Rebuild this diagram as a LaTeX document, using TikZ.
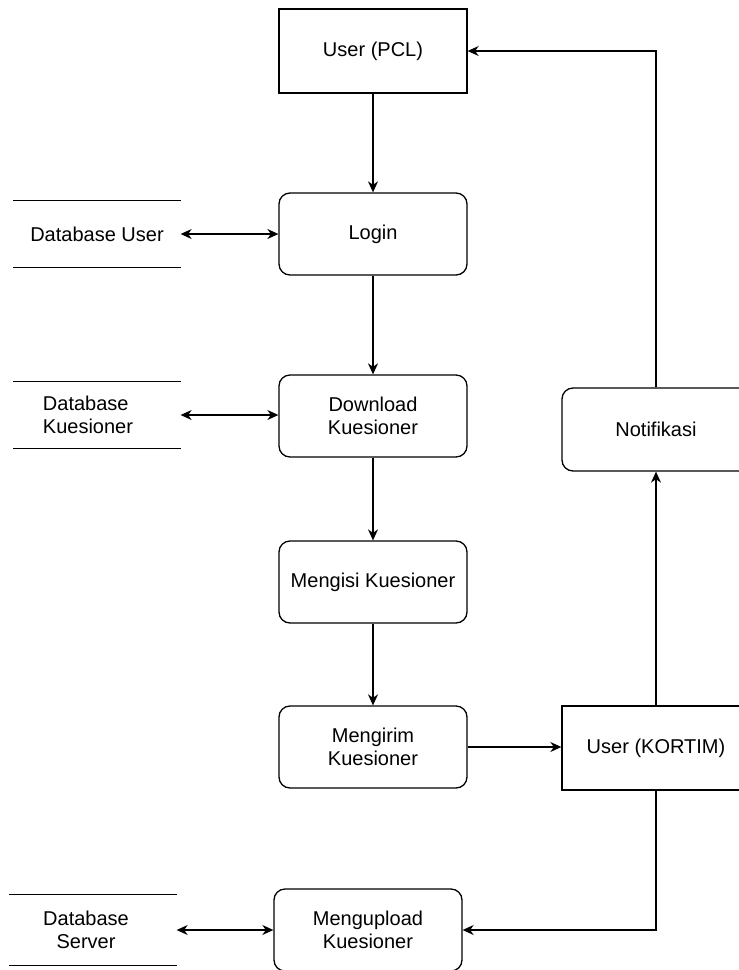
\documentclass[tikz,border=0pt]{standalone}
\usepackage{fontspec}
\setmainfont{Liberation Sans}
\usetikzlibrary{arrows.meta}
\begin{document}
\begin{tikzpicture}[x=1pt,y=-1pt,
  font=\fontsize{20}{23}\selectfont,
  line width=1.3pt,
  every node/.style={align=center, inner sep=0pt},
  proc/.style={draw, rounded corners=11pt, minimum width=188pt, minimum height=82pt},
  ent/.style={draw, minimum width=188pt, minimum height=84pt},
  store/.style={minimum width=166pt, minimum height=66pt},
  tip/.tip={Stealth[length=11pt,width=10pt,inset=3.5pt]},
  flow/.style={-tip},
  both/.style={tip-tip}
]
\useasboundingbox (0,0) rectangle (739,970);

% processes and actors
\node[ent]  (pcl)    at (373,51)    {User (PCL)};
\node[proc] (login)  at (373,234)   {Login};
\node[proc] (down)   at (373,416)   {Download\\Kuesioner};
\node[proc] (isi)    at (373,582)   {Mengisi Kuesioner};
\node[proc] (kirim)  at (373,747)   {Mengirim\\Kuesioner};
\node[ent]  (kortim) at (656,748)   {User (KORTIM)};
\node[proc, minimum height=83pt] (notif) at (656,429.5) {Notifikasi};
\node[proc] (up)     at (368,930)   {Mengupload\\Kuesioner};

% data stores
\node[store] (dbu) at (97,234)  {Database User};
\node[store, align=left] (dbk) at (97,415)  {Database\\Kuesioner\hspace*{18pt}};
\node[store, minimum height=70pt] (dbs) at (93,930) {Database\hspace*{14pt}\\Server\hspace*{14pt}};
\foreach \s in {dbu,dbk,dbs}{
  \draw (\s.north west) -- (\s.north east);
  \draw (\s.south west) -- (\s.south east);
}

% main flow
\draw[flow] (pcl) -- (login);
\draw[flow] (login) -- (down);
\draw[flow] (down) -- (isi);
\draw[flow] (isi) -- (kirim);
\draw[flow] (kirim.east) -- (kirim.east -| kortim.west);
\draw[flow] (kortim) -- (notif);
\draw[flow] (notif.north) |- (pcl.east);
\draw[flow] (kortim.south) |- (up.east);

% store access
\draw[both] (dbu.east) -- (dbu.east -| login.west);
\draw[both] (dbk.east) -- (dbk.east -| down.west);
\draw[both] (dbs.east) -- (dbs.east -| up.west);
\end{tikzpicture}
\end{document}
